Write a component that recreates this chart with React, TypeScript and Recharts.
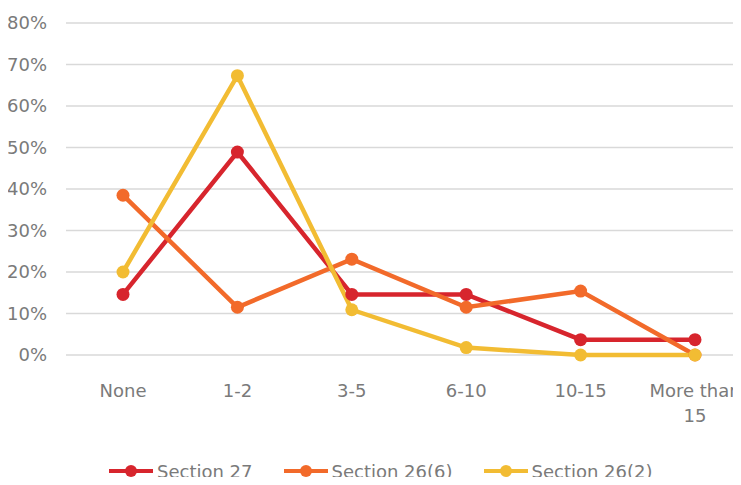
import React from "react";
import {
  LineChart,
  Line,
  XAxis,
  YAxis,
  CartesianGrid,
  Legend,
} from "recharts";

const categories = ["None", "1-2", "3-5", "6-10", "10-15", "More than 15"];

// percentages
const section27 = [14.6, 48.9, 14.6, 14.6, 3.7, 3.7];
const section26_6 = [38.5, 11.5, 23.1, 11.5, 15.4, 0];
const section26_2 = [20.0, 67.3, 10.9, 1.8, 0, 0];

const yTicks = [0, 10, 20, 30, 40, 50, 60, 70, 80];

const series = [
  { key: "s27", name: "Section 27", color: "#d7252d" },
  { key: "s266", name: "Section 26(6)", color: "#f26a2a" },
  { key: "s262", name: "Section 26(2)", color: "#f2bc33" },
];

const data = categories.map((name, i) => ({
  name,
  s27: section27[i],
  s266: section26_6[i],
  s262: section26_2[i],
}));

const FONT = "'DejaVu Sans', sans-serif";
const TEXT_COLOR = "#7a7a7a";

// wrap a label into lines of at most ~10 characters
const wrapLabel = (label: string) => {
  const lines: string[] = [];
  let cur = "";
  label.split(" ").forEach((w) => {
    if (cur && (cur + " " + w).length > 10) {
      lines.push(cur);
      cur = w;
    } else {
      cur = cur ? cur + " " + w : w;
    }
  });
  if (cur) lines.push(cur);
  return lines;
};

const CategoryTick = (props: any) => {
  const { x, y, payload } = props;
  const lines = wrapLabel(String(payload.value));
  return (
    <text
      x={x}
      y={y}
      textAnchor="middle"
      fontSize={18}
      fontFamily={FONT}
      fill={TEXT_COLOR}
    >
      {lines.map((l, i) => (
        <tspan key={i} x={x} dy={i === 0 ? 13 : 25}>
          {l}
        </tspan>
      ))}
    </text>
  );
};

const LegendContent = () => (
  <div
    style={{
      display: "flex",
      alignItems: "center",
      height: 30,
      paddingLeft: 109,
      fontFamily: FONT,
      fontSize: 18,
      color: TEXT_COLOR,
    }}
  >
    {series.map((s) => (
      <div
        key={s.key}
        style={{ display: "flex", alignItems: "center", marginRight: 31 }}
      >
        <svg width={44} height={14}>
          <line x1={0} y1={7} x2={44} y2={7} stroke={s.color} strokeWidth={4} />
          <circle cx={22} cy={7} r={6} fill={s.color} />
        </svg>
        <span style={{ marginLeft: 4, whiteSpace: "nowrap" }}>{s.name}</span>
      </div>
    ))}
  </div>
);

export default function App() {
  return (
    <div
      style={{
        margin: -8,
        width: 741,
        height: 485,
        overflow: "hidden",
        position: "relative",
        background: "#fff",
      }}
    >
      <LineChart
        width={752}
        height={485}
        data={data}
        margin={{ top: 23, right: 0, left: 0, bottom: 0 }}
      >
        <CartesianGrid vertical={false} stroke="#d9d9d9" strokeWidth={1.5} />
        <XAxis
          dataKey="name"
          axisLine={false}
          tickLine={false}
          tickSize={0}
          tickMargin={29}
          height={100}
          interval={0}
          padding={{ left: 57, right: 57 }}
          tick={<CategoryTick />}
        />
        <YAxis
          width={66}
          domain={[0, 80]}
          ticks={yTicks}
          axisLine={false}
          tickLine={false}
          tickSize={0}
          tickMargin={19}
          tickFormatter={(v: number) => `${v}%`}
          tick={{ fontSize: 18, fontFamily: FONT, fill: TEXT_COLOR }}
        />
        <Legend
          verticalAlign="bottom"
          content={<LegendContent />}
          wrapperStyle={{ top: 456, left: 0, width: 741, height: 30 }}
        />
        {series.map((s) => (
          <Line
            key={s.key}
            dataKey={s.key}
            name={s.name}
            stroke={s.color}
            strokeWidth={4.5}
            dot={{ r: 6.5, fill: s.color, stroke: "none" }}
            activeDot={false}
            isAnimationActive={false}
          />
        ))}
      </LineChart>
    </div>
  );
}
